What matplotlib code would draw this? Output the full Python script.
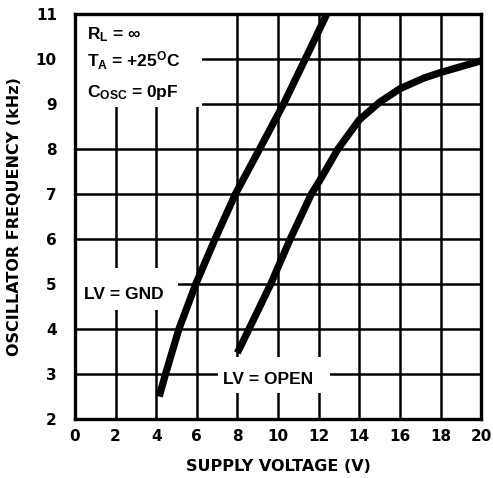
import matplotlib
matplotlib.use('Agg')
import matplotlib.pyplot as plt
from matplotlib.patches import Rectangle

# curves
gnd_v = [4.15, 4.46, 5.12, 5.95, 6.9, 7.9, 9.09, 10.27, 11.34, 12.4]
gnd_f = [2.5, 3.0, 4.0, 5.0, 6.0, 7.0, 8.0, 9.0, 10.0, 11.0]

open_v = [8.0, 8.57, 9.64, 10.6, 11.64, 12.0, 12.95, 14.0, 15.0, 16.0, 17.2, 18.0, 20.0]
open_f = [3.47, 4.0, 5.0, 6.0, 7.0, 7.26, 8.0, 8.65, 9.04, 9.34, 9.58, 9.7, 9.96]

x_ticks = list(range(0, 21, 2))
y_ticks = list(range(2, 12))

plt.rcParams['font.family'] = ['Liberation Sans', 'DejaVu Sans']
plt.rcParams['font.weight'] = 'bold'
plt.rcParams['mathtext.fontset'] = 'custom'
plt.rcParams['mathtext.rm'] = 'Liberation Sans:bold'
plt.rcParams['mathtext.bf'] = 'Liberation Sans:bold'
plt.rcParams['mathtext.it'] = 'Liberation Sans:bold'

fig = plt.figure(figsize=(4.93, 4.78), dpi=100)
ax = fig.add_axes([0.152, 0.1234, 0.824, 0.8473])

ax.set_xlim(0, 20)
ax.set_ylim(2, 11)
ax.set_xticks(x_ticks)
ax.set_yticks(y_ticks)
ax.tick_params(length=0)
ax.tick_params(axis='x', pad=7)
ax.tick_params(axis='y', pad=13)
for lab in ax.get_xticklabels() + ax.get_yticklabels():
    lab.set_fontfamily('DejaVu Sans')
    lab.set_fontweight('bold')
    lab.set_fontsize(11)

ax.grid(True, color='black', linewidth=1.8, zorder=1)
ax.set_axisbelow(True)
for s in ax.spines.values():
    s.set_linewidth(2.4)
    s.set_zorder(10)

ax.plot(gnd_v, gnd_f, color='black', lw=5.2, solid_capstyle='butt',
        solid_joinstyle='round', zorder=5)
ax.plot(open_v, open_f, color='black', lw=5.2, solid_capstyle='butt',
        solid_joinstyle='round', zorder=5)

# white areas behind the labels
ax.add_patch(Rectangle((0, 8.93), 6.25, 2.07, facecolor='white', edgecolor='none', zorder=3))
ax.add_patch(Rectangle((0, 4.42), 5.07, 0.94, facecolor='white', edgecolor='none', zorder=3))
ax.add_patch(Rectangle((7.04, 2.58), 5.52, 0.8, facecolor='white', edgecolor='none', zorder=3))

tkw = dict(fontsize=12.5, fontweight='bold', zorder=6, va='baseline', ha='left')
ax.text(0.6, 10.44, r'R$_\mathrm{L}$ = ∞', **tkw)
ax.text(0.6, 9.82, r'T$_\mathrm{A}$ = +25$^\mathrm{O}$C', **tkw)
ax.text(0.6, 9.16, r'C$_\mathrm{OSC}$ = 0pF', **tkw)
ax.text(0.44, 4.67, 'LV = GND', **tkw)
ax.text(7.29, 2.78, 'LV = OPEN', **tkw)

lkw = dict(fontsize=11.5, fontweight='bold', family='DejaVu Sans')
ax.set_xlabel('SUPPLY VOLTAGE (V)', labelpad=11, **lkw)
ax.set_ylabel('OSCILLATOR FREQUENCY (kHz)', labelpad=10, **lkw)

fig.savefig('out.png', dpi=100)
